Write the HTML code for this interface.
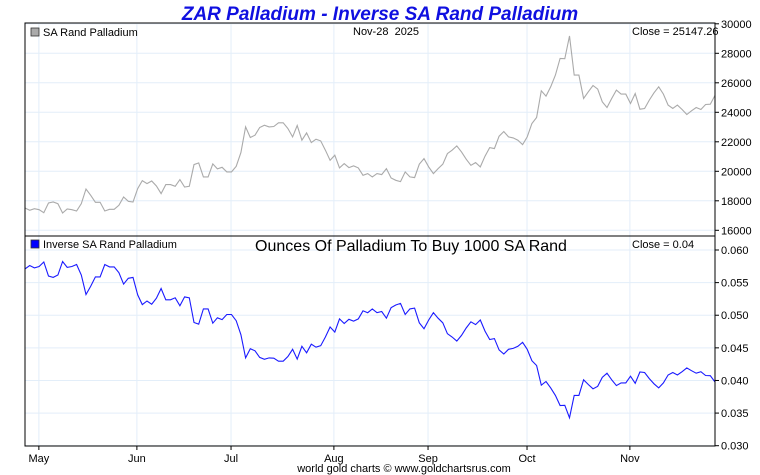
<!DOCTYPE html>
<html><head><meta charset="utf-8"><style>
html,body{margin:0;padding:0;background:#fff;}
svg{display:block;font-family:"Liberation Sans",sans-serif;}
</style></head><body>
<svg id="chart" width="760" height="475" viewBox="0 0 760 475">
<text x="380" y="20" text-anchor="middle" font-size="19" font-weight="bold" font-style="italic" fill="#1010e0">ZAR Palladium - Inverse SA Rand Palladium</text>
<g id="grid"></g>
<g id="series"></g>
<rect x="25" y="23" width="690" height="213" fill="none" stroke="#000"/>
<rect x="25" y="236" width="690" height="210" fill="none" stroke="#000"/>
<rect x="31" y="28" width="8" height="8" fill="#aaa" stroke="#333" stroke-width="0.8"/>
<text x="43" y="36" font-size="11" fill="#000">SA Rand Palladium</text>
<text x="353" y="35" font-size="11" fill="#000" xml:space="preserve">Nov-28  2025</text>
<text x="632" y="35" font-size="11" fill="#000">Close = 25147.26</text>
<rect x="31" y="240" width="8" height="8" fill="#0000ff" stroke="#333" stroke-width="0.8"/>
<text x="43" y="248" font-size="11" fill="#000">Inverse SA Rand Palladium</text>
<text x="411" y="251" text-anchor="middle" font-size="16" fill="#000">Ounces Of Palladium To Buy 1000 SA Rand</text>
<text x="632" y="248" font-size="11" fill="#000">Close = 0.04</text>
<g id="axes"></g>
<text x="404" y="472" text-anchor="middle" font-size="11" fill="#000">world gold charts © www.goldchartsrus.com</text>
</svg>
<script>
const topTicks = [16000,18000,20000,22000,24000,26000,28000,30000];
const bottomTicks = [0.030,0.035,0.040,0.045,0.050,0.055,0.060];
const bottomTickLabels = ["0.030","0.035","0.040","0.045","0.050","0.055","0.060"];
const monthLabels = ["May","Jun","Jul","Aug","Sep","Oct","Nov"];
const monthDays = [4.3,34.7,63.9,95.8,125,155.7,187.6];
const totalDays = 214;
const palladiumZar = [17512,17353,17466,17398,17195,17851,17919,17806,17172,17444,17398,17308,17806,18802,18372,17897,17897,17308,17421,17421,17693,18259,17964,17919,18825,19368,19164,19345,19006,18485,19096,19096,18983,19436,18938,18983,20455,20568,19617,19617,20500,20160,20274,19957,19957,20342,21270,23013,22289,22447,22968,23126,23013,23036,23285,23285,22900,22334,23104,22108,22606,21949,22176,22062,21428,20749,21089,20229,20523,20251,20365,20229,
19730,19844,19617,19844,19776,20183,19549,19391,19300,19957,19617,19572,20478,20863,20297,19844,20183,20478,21202,21428,21723,21315,20817,20410,20591,20297,21021,21610,21542,22380,22696,22334,22266,22108,21813,22334,23240,23647,25458,25096,25730,26522,27654,27632,29171,26522,26522,24938,25390,25820,25571,24711,24326,24938,25504,25232,25232,24598,25277,24213,24258,24824,25323,25730,25232,24485,24258,24485,24190,23851,24100,24326,24190,24530,24552,25147.26];
const inverse = palladiumZar.map(v => 1000 / v);

const L=25,R=715;
const yTop = v => 23.8 + (30000 - v) / 14000 * (230.3 - 23.8);
const yBot = v => 250 + (0.060 - v) / 0.030 * (445.7 - 250);
const xIdx = i => L + i / (palladiumZar.length - 1) * (R - L);
const xDay = d => L + d / totalDays * (R - L);
const NS="http://www.w3.org/2000/svg";
function mk(tag, attrs, parent){const e=document.createElementNS(NS,tag);for(const k in attrs)e.setAttribute(k,attrs[k]);parent.appendChild(e);return e;}
const grid=document.getElementById('grid'), series=document.getElementById('series'), axes=document.getElementById('axes');

topTicks.forEach(t=>{
  const y=yTop(t);
  const g=mk('line',{x1:L,x2:R,y1:y,y2:y,stroke:'#e3eef9'},grid);
  
  
  const tk=mk('line',{x1:R,x2:R+4,y1:y,y2:y,stroke:'#000'},axes);
  
  
  const tx=mk('text',{x:R+6,y:y+4,'font-size':11,fill:'#000'},axes);
  tx.textContent=t;
  
  
});
bottomTicks.forEach((t,i)=>{
  const y=yBot(t);
  const g=mk('line',{x1:L,x2:R,y1:y,y2:y,stroke:'#e3eef9'},grid);
  
  
  const tk=mk('line',{x1:R,x2:R+4,y1:y,y2:y,stroke:'#000'},axes);
  
  
  const tx=mk('text',{x:R+6,y:y+4,'font-size':11,fill:'#000'},axes);
  tx.textContent=bottomTickLabels[i];
  
  
});
monthDays.forEach((d,i)=>{
  const x=xDay(d);
  const g=mk('line',{x1:x,x2:x,y1:23,y2:446,stroke:'#e3eef9'},grid);
  
  
  const tk=mk('line',{x1:x,x2:x,y1:446,y2:450,stroke:'#000'},axes);
  
  
  const tx=mk('text',{x:x,y:462,'font-size':11,fill:'#000','text-anchor':'middle'},axes);
  tx.textContent=monthLabels[i];
  
  
});
const p1=mk('polyline',{points:palladiumZar.map((v,i)=>xIdx(i).toFixed(1)+','+yTop(v).toFixed(1)).join(' '),fill:'none',stroke:'#aaaaaa','stroke-width':1.1},series);


const p2=mk('polyline',{points:inverse.map((v,i)=>xIdx(i).toFixed(1)+','+yBot(v).toFixed(1)).join(' '),fill:'none',stroke:'#1a1aff','stroke-width':1.1},series);


</script>
</body></html>
